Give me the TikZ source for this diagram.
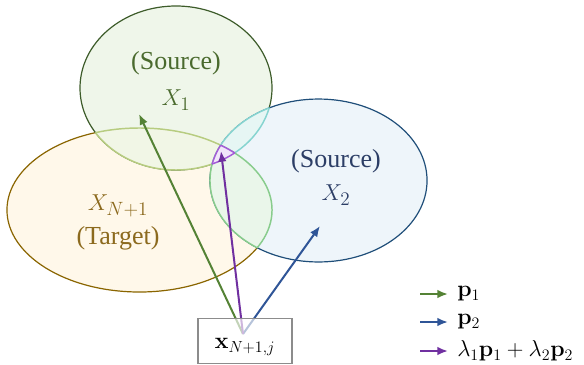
\documentclass[tikz,border=0pt]{standalone}
\usepackage[no-math]{fontspec}
\setmainfont{Liberation Serif}
\usetikzlibrary{arrows.meta}
\definecolor{aFill}{HTML}{EFF6EA}
\definecolor{aLine}{HTML}{3D5C2A}
\definecolor{aText}{HTML}{4A6A2E}
\definecolor{tFill}{HTML}{FFF8EA}
\definecolor{tLine}{HTML}{8A6500}
\definecolor{tText}{HTML}{8C6A1E}
\definecolor{bFill}{HTML}{EEF5FA}
\definecolor{bLine}{HTML}{1F4E79}
\definecolor{bText}{HTML}{2C3E66}
\definecolor{atFill}{HTML}{F1F6E6}
\definecolor{atLine}{HTML}{B7CC80}
\definecolor{abFill}{HTML}{E6F6F4}
\definecolor{abLine}{HTML}{86D4D0}
\definecolor{btFill}{HTML}{EAF6EA}
\definecolor{btLine}{HTML}{88CC8C}
\definecolor{triFill}{HTML}{F1E6FA}
\definecolor{triLine}{HTML}{A45CD8}
\definecolor{pOne}{HTML}{548235}
\definecolor{pTwo}{HTML}{2F5597}
\definecolor{pMix}{HTML}{7030A0}
\begin{document}
\begin{tikzpicture}[x=0.75pt,y=-0.75pt,
  lbl/.style={font=\fontsize{17.28}{21}\selectfont, inner sep=0pt},
  big/.style={font=\fontsize{19}{23}\selectfont, inner sep=0pt},
  leg/.style={font=\fontsize{18.3}{22}\selectfont, inner sep=0pt},
  wrd/.style={font=\fontsize{19.5}{23}\selectfont, inner sep=0pt},
  ell/.style={line width=0.9pt},
  lens/.style={line width=1.1pt},
  parrow/.style={line width=1.5pt, -{Latex[length=8pt,width=6.5pt]}},
  boxstyle/.style={draw=black!45, line width=0.9pt, fill=white, fill opacity=0.65, inner sep=0pt}]
\useasboundingbox (0,0) rectangle (584,364);
\def\EllA{(176,88) ellipse [x radius=72pt, y radius=61.5pt]}
\def\EllT{(139.5,210) ellipse [x radius=99.4pt, y radius=61.5pt]}
\def\EllB{(318.5,180.5) ellipse [x radius=81.4pt, y radius=61.1pt]}
% base ellipses
\draw[ell, draw=tLine, fill=tFill] \EllT;
\draw[ell, draw=aLine, fill=aFill] \EllA;
\draw[ell, draw=bLine, fill=bFill] \EllB;
% lens X1 and target
\begin{scope}\clip \EllT; \fill[atFill] \EllA; \draw[lens, atLine] \EllA; \end{scope}
\begin{scope}\clip \EllA; \draw[lens, atLine] \EllT; \end{scope}
% lens X1 and X2
\begin{scope}\clip \EllB; \fill[abFill] \EllA; \draw[lens, abLine] \EllA; \end{scope}
\begin{scope}\clip \EllA; \draw[lens, abLine] \EllB; \end{scope}
% lens X2 and target
\begin{scope}\clip \EllT; \fill[btFill] \EllB; \draw[lens, btLine] \EllB; \end{scope}
\begin{scope}\clip \EllB; \draw[lens, btLine] \EllT; \end{scope}
% triple
\begin{scope}\clip \EllT; \clip \EllA; \fill[triFill] \EllB; \draw[lens, triLine] \EllB; \end{scope}
\begin{scope}\clip \EllT; \clip \EllB; \draw[lens, triLine] \EllA; \end{scope}
\begin{scope}\clip \EllA; \clip \EllB; \draw[lens, triLine] \EllT; \end{scope}
% labels
\node[wrd, text=aText] (s1) at (176,63) {(Source)};
\node[big, text=aText] (x1) at (176,100) {$X_1$};
\node[big, text=tText] (xt) at (118,206) {$X_{N+1}$};
\node[wrd, text=tText] (tt) at (118,238) {(Target)};
\node[wrd, text=bText] (s2) at (336,161) {(Source)};
\node[big, text=bText] (x2) at (336,195) {$X_2$};
% arrows
\coordinate (o) at (243,334);
\coordinate (e1) at (139,114);
\coordinate (e2) at (320,226);
\coordinate (e3) at (221,151);
\draw[parrow, pOne] (o) -- (e1);
\draw[parrow, pTwo] (o) -- (e2);
\draw[parrow, pMix] (o) -- (e3);
% box
\node[boxstyle, minimum width=70.5pt, minimum height=34pt] (box) at (245,341) {};
\node[lbl] (boxlabel) at (245,347) {$\mathbf{x}_{N+1,j}$};
% legend
\coordinate (l1s) at (420,294); \coordinate (l1e) at (448,294);
\coordinate (l2s) at (420,322); \coordinate (l2e) at (448,322);
\coordinate (l3s) at (420,351); \coordinate (l3e) at (448,351);
\draw[parrow, pOne] (l1s) -- (l1e);
\draw[parrow, pTwo] (l2s) -- (l2e);
\draw[parrow, pMix] (l3s) -- (l3e);
\node[leg, anchor=west] (t1) at (457,294) {$\mathbf{p}_1$};
\node[leg, anchor=west] (t2) at (457,322) {$\mathbf{p}_2$};
\node[leg, anchor=west] (t3) at (457,351) {$\lambda_1\mathbf{p}_1+\lambda_2\mathbf{p}_2$};
\end{tikzpicture}
\end{document}
